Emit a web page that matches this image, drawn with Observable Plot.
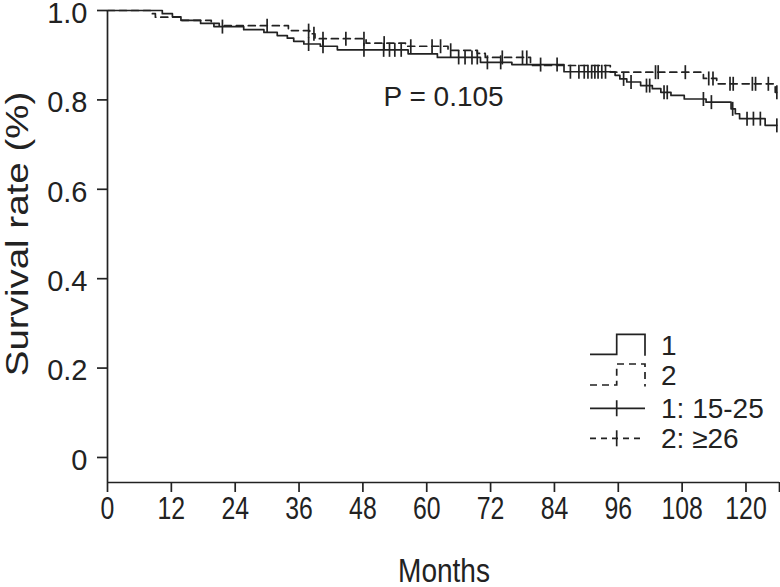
<!DOCTYPE html>
<html><head><meta charset="utf-8">
<script src="https://cdn.jsdelivr.net/npm/d3@7"></script>
<script src="https://cdn.jsdelivr.net/npm/@observablehq/plot@0.6"></script>
<style>
body{margin:0;background:#fff;}
#chart{position:relative;width:780px;height:587px;}
#chart svg text{font-family:"Liberation Sans",Arial,sans-serif;}
g[aria-label="y-axis tick label"] text{font-size:29px;}
g[aria-label="x-axis tick label"] text{font-size:31px;}
#legend{position:absolute;left:580px;top:325px;}
#legend text{font-family:"Liberation Sans",Arial,sans-serif;font-size:28px;fill:#222;}
</style></head><body><div id="chart"></div>
<script>
// axes
const xTicks = [0, 12, 24, 36, 48, 60, 72, 84, 96, 108, 120];
const yTicks = [0, 0.2, 0.4, 0.6, 0.8, 1.0];
const xDomain = [0, 126.3];
const yDomain = [-0.056, 1.0];
const endTime = 125.8;

// group 1 (15-25, solid): event times (months) and survival after each event
const g1Times = [10.3, 12.2, 13.8, 17.5, 20.0, 25.6, 29.4, 31.9, 33.8, 35.0, 36.9, 40.0, 43.2, 56.5, 62.0, 70.1, 76.0, 85.8, 95.4, 96.3, 97.6, 100.2, 102.4, 104.0, 105.9, 108.4, 112.5, 117.2, 118.0, 118.8, 123.6];
const g1Surv  = [0.993, 0.986, 0.978, 0.971, 0.964, 0.957, 0.951, 0.944, 0.938, 0.931, 0.925, 0.920, 0.912, 0.903, 0.895, 0.884, 0.879, 0.863, 0.855, 0.847, 0.840, 0.832, 0.825, 0.817, 0.810, 0.802, 0.795, 0.780, 0.769, 0.758, 0.743];
const g1Censor = [21.6, 37.8, 40.5, 48.2, 51.9, 53.0, 54.0, 55.2, 66.0, 67.2, 68.5, 69.5, 71.4, 73.9, 81.4, 84.5, 87.0, 88.6, 89.6, 90.3, 91.0, 91.6, 92.2, 92.9, 93.6, 97.0, 98.4, 101.3, 101.9, 104.6, 105.2, 112.0, 113.5, 117.5, 120.2, 121.4, 122.7, 125.8];

// group 2 (>=26, dashed)
const g2Times = [8.1, 9.0, 14.0, 19.5, 21.0, 34.0, 38.0, 39.0, 48.6, 56.0, 64.0, 69.5, 71.0, 79.5, 94.5, 112.0, 114.5, 125.5];
const g2Surv  = [0.993, 0.985, 0.978, 0.971, 0.966, 0.955, 0.948, 0.937, 0.927, 0.920, 0.911, 0.904, 0.895, 0.877, 0.862, 0.848, 0.836, 0.817];
const g2Censor = [30.0, 37.8, 38.8, 40.5, 44.8, 48.2, 52.0, 57.0, 61.0, 62.6, 64.5, 74.2, 78.0, 78.8, 103.0, 103.5, 108.6, 113.0, 113.8, 117.0, 117.6, 121.2, 121.8, 124.2, 125.8];

const pLabel = ["P = 0.105"];
const legendLabels = ["1", "2", "1: 15-25", "2: \u226526"];

function stepData(times, surv) {
  const pts = [{t: 0, s: 1}];
  times.forEach((t, i) => pts.push({t, s: surv[i]}));
  pts.push({t: endTime, s: surv[surv.length - 1]});
  return pts;
}
function survAt(times, surv, c) {
  let s = 1;
  times.forEach((t, i) => { if (t <= c) s = surv[i]; });
  return s;
}
const line1 = stepData(g1Times, g1Surv);
const line2 = stepData(g2Times, g2Surv);
const cen1 = g1Censor.map(c => ({t: c, s: survAt(g1Times, g1Surv, c)}));
const cen2 = g2Censor.map(c => ({t: c, s: survAt(g2Times, g2Surv, c)}));

const vbar = {draw(ctx, size) { const r = Math.sqrt(size / Math.PI); ctx.moveTo(0, -r); ctx.lineTo(0, r); }};
const ink = "#222";

const chart = Plot.plot({
  width: 780, height: 587,
  marginTop: 10, marginLeft: 107, marginRight: 1, marginBottom: 105,
  x: {domain: xDomain},
  y: {domain: yDomain},
  style: {color: ink, background: "white", overflow: "visible"},
  marks: [
    Plot.ruleX([xDomain[0]], {stroke: ink, strokeWidth: 1.7}),
    Plot.ruleY([yDomain[0]], {stroke: ink, strokeWidth: 1.7}),
    Plot.axisY({ticks: yTicks, tickSize: 10, tickPadding: 10, strokeWidth: 1.7,
      tickFormat: d => d === 0 ? "0" : d.toFixed(1), label: null}),
    Plot.axisX({ticks: [...xTicks, xDomain[1]], tickSize: 10, tickPadding: 4, strokeWidth: 1.7,
      tickFormat: d => xTicks.includes(d) ? String(d) : "", label: null}),
    Plot.line(line1, {x: "t", y: "s", curve: "step-after", stroke: ink, strokeWidth: 1.7}),
    Plot.line(line2, {x: "t", y: "s", curve: "step-after", stroke: ink, strokeWidth: 1.7, strokeDasharray: "7,5"}),
    Plot.dot(cen1, {x: "t", y: "s", symbol: vbar, r: 7, stroke: ink, strokeWidth: 1.7, fill: "none"}),
    Plot.dot(cen2, {x: "t", y: "s", symbol: vbar, r: 7, stroke: ink, strokeWidth: 1.7, fill: "none"}),
    Plot.text(pLabel, {text: d => d, frameAnchor: "top-left", dx: 276, dy: 87, textAnchor: "start",
      lineAnchor: "middle", fontSize: 28, fill: ink})
  ]
});
document.getElementById("chart").appendChild(chart);
const svg = d3.select(chart);

// wrap a text node in a group with the given transform built from its centre
function wrap(node, makeTransform) {
  const parent = node.parentNode;
  const r = node.getBoundingClientRect();
  if (!r.width) return;
  const p = new DOMPoint(r.left + r.width / 2, r.top + r.height / 2)
    .matrixTransform(parent.getScreenCTM().inverse());
  const g = document.createElementNS("http://www.w3.org/2000/svg", "g");
  g.setAttribute("transform", makeTransform(p));
  parent.insertBefore(g, node);
  g.appendChild(node);
}
// condense the x tick labels horizontally about their own centres
svg.selectAll('g[aria-label="x-axis tick label"] text').each(function() {
  wrap(this, p => `translate(${p.x},0) scale(0.8,1) translate(${-p.x},0)`);
});
// nudge the y tick labels down slightly
svg.selectAll('g[aria-label="y-axis tick label"] text').each(function() {
  wrap(this, () => "translate(0,3)");
});

// axis titles
svg.append("text").text("Months")
  .attr("transform", "translate(444,582) scale(0.85,1)")
  .attr("text-anchor", "middle")
  .style("font-size", "33px").attr("fill", ink);
svg.append("text").text("Survival rate (%)")
  .attr("transform", "translate(28,234) rotate(-90) scale(1,0.8)")
  .attr("text-anchor", "middle")
  .style("font-size", "38.5px").attr("fill", ink);

// legend
const lg = d3.select("#chart").append("svg").attr("id", "legend").attr("width", 200).attr("height", 135);
const L = 10, M = 36.7, R = 65;
const rows = [29.3, 60, 83.3, 113.3];
lg.append("path").attr("d", `M${L},${rows[0]}H${M}V${rows[0]-20}H${R}V${rows[0]+1.5}`)
  .attr("fill", "none").attr("stroke", ink).attr("stroke-width", 1.7);
lg.append("path").attr("d", `M${L},${rows[1]}H${M}V${rows[1]-21}H${R}V${rows[1]+1.5}`)
  .attr("fill", "none").attr("stroke", ink).attr("stroke-width", 1.7).attr("stroke-dasharray", "7,5");
lg.append("path").attr("d", `M${L},${rows[2]}H${R}M${M},${rows[2]-8}V${rows[2]+8}`)
  .attr("fill", "none").attr("stroke", ink).attr("stroke-width", 1.7);
lg.append("path").attr("d", `M${L},${rows[3]}H${R}`)
  .attr("fill", "none").attr("stroke", ink).attr("stroke-width", 1.7).attr("stroke-dasharray", "6,5");
lg.append("path").attr("d", `M${M},${rows[3]-8}V${rows[3]+8}`)
  .attr("fill", "none").attr("stroke", ink).attr("stroke-width", 1.7);
const baselines = [30, 60, 93, 123];
legendLabels.forEach((t, i) => lg.append("text").text(t).attr("x", 81).attr("y", baselines[i]));
</script></body></html>
